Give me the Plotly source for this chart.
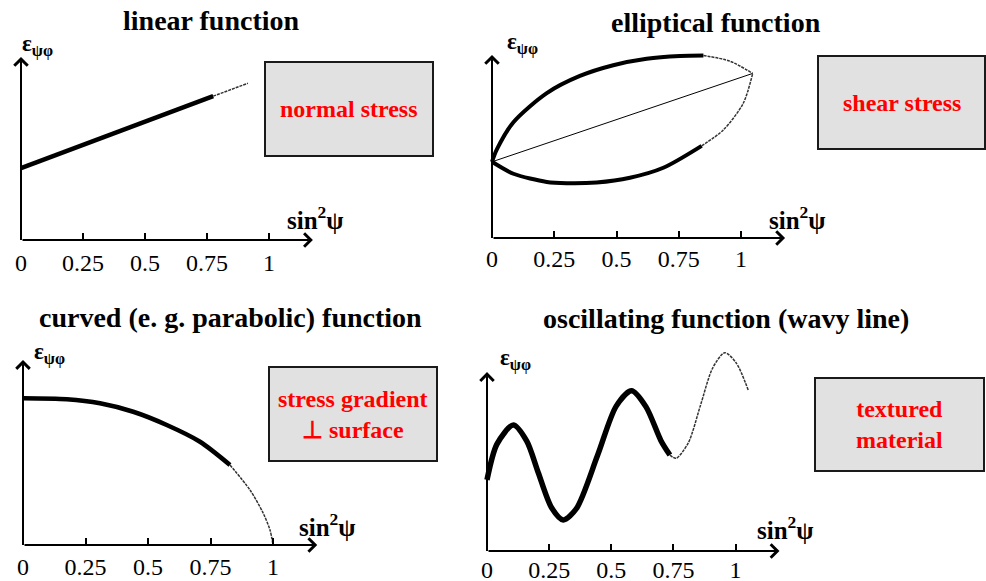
import plotly.graph_objects as go

# ---------------- data (sin^2 psi, epsilon) ----------------
tick_vals = [0, 0.25, 0.5, 0.75, 1]
tick_text = ["0", "0.25", "0.5", "0.75", "1"]

# linear function
lin_x_meas = [0, 0.775]
lin_y_meas = [0.29, 0.58]
lin_x_ext = [0.775, 0.915]
lin_y_ext = [0.58, 0.632]

# elliptical function (psi splitting)
ell_up_x_meas = [0, 0.019, 0.086, 0.22, 0.353, 0.487, 0.621, 0.755, 0.849]
ell_up_y_meas = [0.306, 0.355, 0.465, 0.582, 0.651, 0.694, 0.72, 0.731, 0.733]
ell_up_x_ext = [0.849, 0.956, 1.047]
ell_up_y_ext = [0.733, 0.71, 0.661]
ell_lo_x_meas = [0, 0.086, 0.22, 0.3, 0.42, 0.554, 0.688, 0.842]
ell_lo_y_meas = [0.306, 0.258, 0.225, 0.22, 0.223, 0.242, 0.282, 0.37]
ell_lo_x_ext = [0.842, 0.929, 1.009, 1.047]
ell_lo_y_ext = [0.37, 0.434, 0.541, 0.661]
ell_mid_x = [0, 1.047]
ell_mid_y = [0.306, 0.661]

# curved (parabolic) function
cur_x_meas = [0, 0.175, 0.308, 0.441, 0.575, 0.708, 0.828]
cur_y_meas = [0.587, 0.583, 0.567, 0.533, 0.48, 0.413, 0.32]
cur_x_ext = [0.828, 0.908, 0.961, 0.988, 1.0]
cur_y_ext = [0.32, 0.22, 0.127, 0.06, 0.0]

# oscillating function
osc_x_meas = [0, 0.04, 0.106, 0.16, 0.206, 0.26, 0.307, 0.36, 0.445, 0.52, 0.582, 0.64, 0.70, 0.736]
osc_y_meas = [0.286, 0.43, 0.507, 0.442, 0.316, 0.174, 0.125, 0.171, 0.385, 0.583, 0.645, 0.58, 0.444, 0.386]
osc_x_ext = [0.736, 0.761, 0.81, 0.859, 0.908, 0.957, 1.004, 1.052]
osc_y_ext = [0.386, 0.373, 0.435, 0.586, 0.736, 0.798, 0.755, 0.645]

titles = ["linear function", "elliptical function",
          "curved (e. g. parabolic) function", "oscillating function (wavy line)"]
box_texts = ["normal stress", "shear stress",
             "stress gradient<br>\u22a5 surface", "textured<br>material"]

# ---------------- layout geometry (pixels) ----------------
W, H = 986, 581
XMIN, XMAX, YMAX = -0.03, 1.2, 0.84
panels = [
    dict(ox=21, oy=240, s=248, ytip=0.738, standoff=6,
         title=(211, 20), eps=(20, 45), sin=(285, 218), box=(265, 62, 433, 156)),
    dict(ox=492, oy=238, s=249, ytip=0.735, standoff=4,
         title=(716, 23), eps=(505, 44), sin=(767, 218), box=(818, 56, 985, 149)),
    dict(ox=23, oy=545, s=250, ytip=0.74, standoff=5,
         title=(230, 317), eps=(32, 353), sin=(297, 525), box=(269, 367, 437, 461)),
    dict(ox=487, oy=551, s=248.5, ytip=0.72, standoff=2,
         title=(726, 318), eps=(498, 359), sin=(755, 528), box=(815, 378, 984, 471)),
]
XTIP = 1.177

SERIF = "Liberation Serif"
THICK = dict(color="black", width=4.5)
THIN = dict(color="#333333", width=1.5, dash="3px,1px")


def px(x):
    return x / W


def py(y):
    return 1 - y / H


fig = go.Figure()
series = [
    [(lin_x_meas, lin_y_meas, THICK), (lin_x_ext, lin_y_ext, THIN)],
    [(ell_mid_x, ell_mid_y, dict(color="black", width=1)),
     (ell_up_x_meas, ell_up_y_meas, dict(color="black", width=4)),
     (ell_up_x_ext, ell_up_y_ext, THIN),
     (ell_lo_x_meas, ell_lo_y_meas, dict(color="black", width=4)),
     (ell_lo_x_ext, ell_lo_y_ext, THIN)],
    [(cur_x_meas, cur_y_meas, THICK), (cur_x_ext, cur_y_ext, THIN)],
    [(osc_x_meas, osc_y_meas, dict(color="black", width=5.5)), (osc_x_ext, osc_y_ext, THIN)],
]

for i, p in enumerate(panels):
    n = "" if i == 0 else str(i + 1)
    xa, ya = "x" + n, "y" + n
    for xs, ys, ln in series[i]:
        fig.add_trace(go.Scatter(x=xs, y=ys, mode="lines",
                                 line=dict(shape="spline", smoothing=0.8, **ln),
                                 xaxis=xa, yaxis=ya, showlegend=False, hoverinfo="skip"))
    ox, oy, s = p["ox"], p["oy"], p["s"]
    fig.update_layout({
        "xaxis" + n: dict(
            domain=[px(ox + XMIN * s), px(ox + XMAX * s)], range=[XMIN, XMAX], anchor=ya,
            showgrid=False, zeroline=False, showline=False, automargin=False,
            ticks="inside", ticklen=7, tickwidth=1.5, tickcolor="black",
            tickvals=tick_vals, ticktext=tick_text,
            tickfont=dict(family=SERIF, size=24, color="black"),
            ticklabelstandoff=p["standoff"], fixedrange=True),
        "yaxis" + n: dict(
            domain=[py(oy), py(oy - YMAX * s)], range=[0, YMAX], anchor=xa,
            showgrid=False, zeroline=False, showline=False, showticklabels=False,
            automargin=False, ticks="", fixedrange=True),
    })
    # axis arrows
    for tx, ty in [(XTIP, 0), (0, p["ytip"])]:
        fig.add_annotation(x=tx, y=ty, ax=0, ay=0, xref=xa, yref=ya, axref=xa, ayref=ya,
                           text="", showarrow=True, arrowhead=4, arrowsize=1.3,
                           arrowwidth=2, arrowcolor="black", standoff=0)
    # title
    tx, ty = p["title"]
    fig.add_annotation(x=px(tx), y=py(ty), xref="paper", yref="paper", showarrow=False,
                       text="<b>%s</b>" % titles[i], xanchor="center", yanchor="middle",
                       font=dict(family=SERIF, size=28, color="black"))
    # axis labels
    ex, ey = p["eps"]
    fig.add_annotation(x=px(ex), y=py(ey), xref="paper", yref="paper", showarrow=False,
                       text="<b>\u03b5<sub>\u03c8\u03c6</sub></b>", xanchor="left", yanchor="middle",
                       font=dict(family=SERIF, size=23, color="black"))
    sx, sy = p["sin"]
    fig.add_annotation(x=px(sx), y=py(sy), xref="paper", yref="paper", showarrow=False,
                       text="<b>sin<sup>2</sup>\u03c8</b>", xanchor="left", yanchor="middle",
                       font=dict(family=SERIF, size=25, color="black"))
    # grey classification box
    x0, y0, x1, y1 = p["box"]
    fig.add_shape(type="rect", xref="paper", yref="paper", x0=px(x0), x1=px(x1),
                  y0=py(y1), y1=py(y0), fillcolor="#e1e1e1",
                  line=dict(color="#1a1a1a", width=2), layer="below")
    fig.add_annotation(x=px((x0 + x1) / 2), y=py((y0 + y1) / 2), xref="paper", yref="paper",
                       showarrow=False, text="<b>%s</b>" % box_texts[i],
                       xanchor="center", yanchor="middle", align="center",
                       font=dict(family=SERIF, size=24, color="#ff0000"))

fig.update_layout(width=W, height=H, margin=dict(l=0, r=0, t=0, b=0, autoexpand=False),
                  font=dict(family=SERIF, color="black"),
                  paper_bgcolor="white", plot_bgcolor="white", showlegend=False)
fig.write_html("out.html")
